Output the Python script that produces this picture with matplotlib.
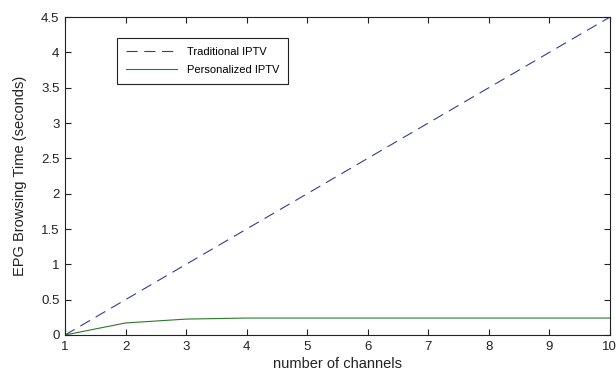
import numpy as np
import matplotlib
matplotlib.use("Agg")
import matplotlib.pyplot as plt

plt.rcParams['font.family'] = ['Liberation Sans', 'DejaVu Sans']

channels = [1, 2, 3, 4, 5, 6, 7, 8, 9, 10]
traditional = [0, 0.5, 1.0, 1.5, 2.0, 2.5, 3.0, 3.5, 4.0, 4.5]
personalized = [0, 0.17, 0.225, 0.24, 0.24, 0.24, 0.24, 0.24, 0.24, 0.24]

fig = plt.figure(figsize=(6.16, 3.72), dpi=100)
ax = fig.add_axes([0.1055, 0.0995, 0.8845, 0.8545])

ax.plot(channels, traditional, '--', color='#3a3a8c', lw=0.8, dashes=(10, 6),
        label='Traditional IPTV')
ax.plot(channels, personalized, '-', color='#2a7a2a', lw=0.8,
        label='Personalized IPTV')

ax.set_xlim(1, 10)
ax.set_ylim(0, 4.5)
ax.set_xticks(channels)
ax.set_yticks(np.arange(0, 4.51, 0.5))
ax.set_yticklabels(['0', '0.5', '1', '1.5', '2', '2.5', '3', '3.5', '4', '4.5'])
ax.tick_params(direction='in', top=True, right=True, length=4, width=0.8,
               labelsize=9.5, pad=4, colors='#222222')
for s in ax.spines.values():
    s.set_linewidth(0.8)
    s.set_color('#222222')

ax.set_xlabel('number of channels', fontsize=10.5, labelpad=3, color='#222222')
ax.set_ylabel('EPG Browsing Time (seconds)', fontsize=10.5, labelpad=10, color='#222222')

leg = ax.legend(loc='upper left', bbox_to_anchor=(0.0954, 0.934), fontsize=8,
                fancybox=False, framealpha=1, edgecolor='#222222',
                borderaxespad=0, handlelength=4.6, handletextpad=0.9,
                borderpad=0.8, labelspacing=0.7)
leg.get_frame().set_linewidth(0.8)

fig.savefig('out.png', dpi=100)
